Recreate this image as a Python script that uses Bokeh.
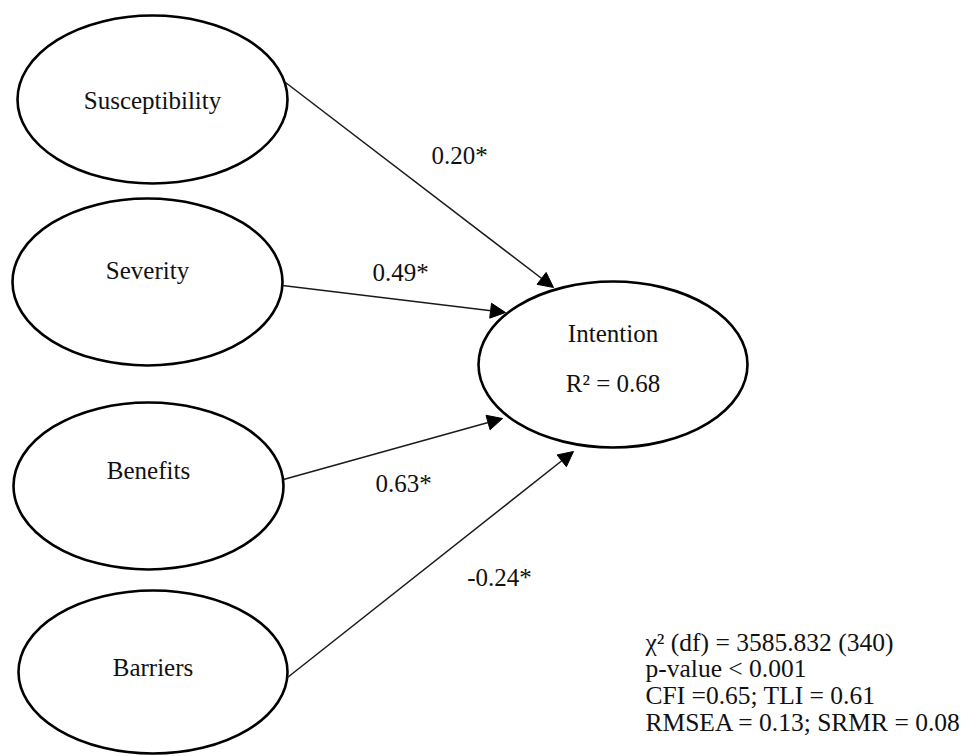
from bokeh.plotting import figure
from bokeh.models import Range1d, Arrow, NormalHead, ColumnDataSource
from bokeh.core.properties import value
from bokeh.embed import file_html
from bokeh.resources import INLINE

# ---- data ----
predictors = ["Susceptibility", "Severity", "Benefits", "Barriers"]
outcome = "Intention"
coefficients = ["0.20*", "0.49*", "0.63*", "-0.24*"]
r_squared = "R\u00b2 = 0.68"
fit_lines = [
    "\u03c7\u00b2 (df) = 3585.832 (340)",
    "p-value < 0.001",
    "CFI =0.65; TLI = 0.61",
    "RMSEA = 0.13; SRMR = 0.08",
]

# ---- layout (pixel positions of the diagram) ----
pred_cx = [152, 147, 148, 152.5]
pred_cy = [99, 281.5, 485.5, 671.5]
pred_w = [270, 270, 270, 269]
pred_h = [168, 167, 167, 163]
pred_label_y = [100, 270, 470, 667]
out_cx, out_cy, out_w, out_h = 612.5, 364, 269, 166
out_label_y = [333, 383]
arrow_start = [(285, 82), (282, 285), (283, 479), (287, 677)]
arrow_end = [(553, 287), (505, 312), (502, 418), (573, 451)]
coef_pos = [(459, 155), (400, 272), (403, 483), (499, 577)]
fit_x = 645
fit_y = [642, 668, 695, 722]

FONT = value("Liberation Serif")
FS = value("25px")
FS_FIT = value("25.5px")

W, H = 963, 756
p = figure(width=W, height=H, x_range=Range1d(0, W), y_range=Range1d(H, 0),
           output_backend="svg", toolbar_location=None, min_border=0)
p.xaxis.visible = False
p.yaxis.visible = False
p.grid.visible = False
p.outline_line_color = None
p.background_fill_color = "white"
p.border_fill_color = "white"

# arrows
for (xs, ys), (xe, ye) in zip(arrow_start, arrow_end):
    p.add_layout(Arrow(x_start=xs, y_start=ys, x_end=xe, y_end=ye,
                       line_color="#1a1a1a", line_width=1.5,
                       end=NormalHead(size=15, fill_color="black", line_color="black", line_width=1)))

# ellipses
src = ColumnDataSource(dict(x=pred_cx + [out_cx], y=pred_cy + [out_cy],
                            w=pred_w + [out_w], h=pred_h + [out_h]))
p.ellipse(x="x", y="y", width="w", height="h", source=src,
          fill_color="white", line_color="black", line_width=2.6)

# node labels
p.text(x=pred_cx, y=pred_label_y, text=predictors, text_font=FONT, text_font_size=FS,
       text_align="center", text_baseline="middle", text_color="#111111")
p.text(x=[out_cx, out_cx], y=out_label_y, text=[outcome, r_squared], text_font=FONT,
       text_font_size=FS, text_align="center", text_baseline="middle", text_color="#111111")

# coefficients
p.text(x=[c[0] for c in coef_pos], y=[c[1] for c in coef_pos], text=coefficients,
       text_font=FONT, text_font_size=FS, text_align="center", text_baseline="middle",
       text_color="#111111")

# fit indices
p.text(x=[fit_x] * len(fit_lines), y=fit_y, text=fit_lines, text_font=FONT,
       text_font_size=FS_FIT, text_align="left", text_baseline="middle", text_color="#111111")

open("out.html", "w").write(file_html(p, INLINE))
